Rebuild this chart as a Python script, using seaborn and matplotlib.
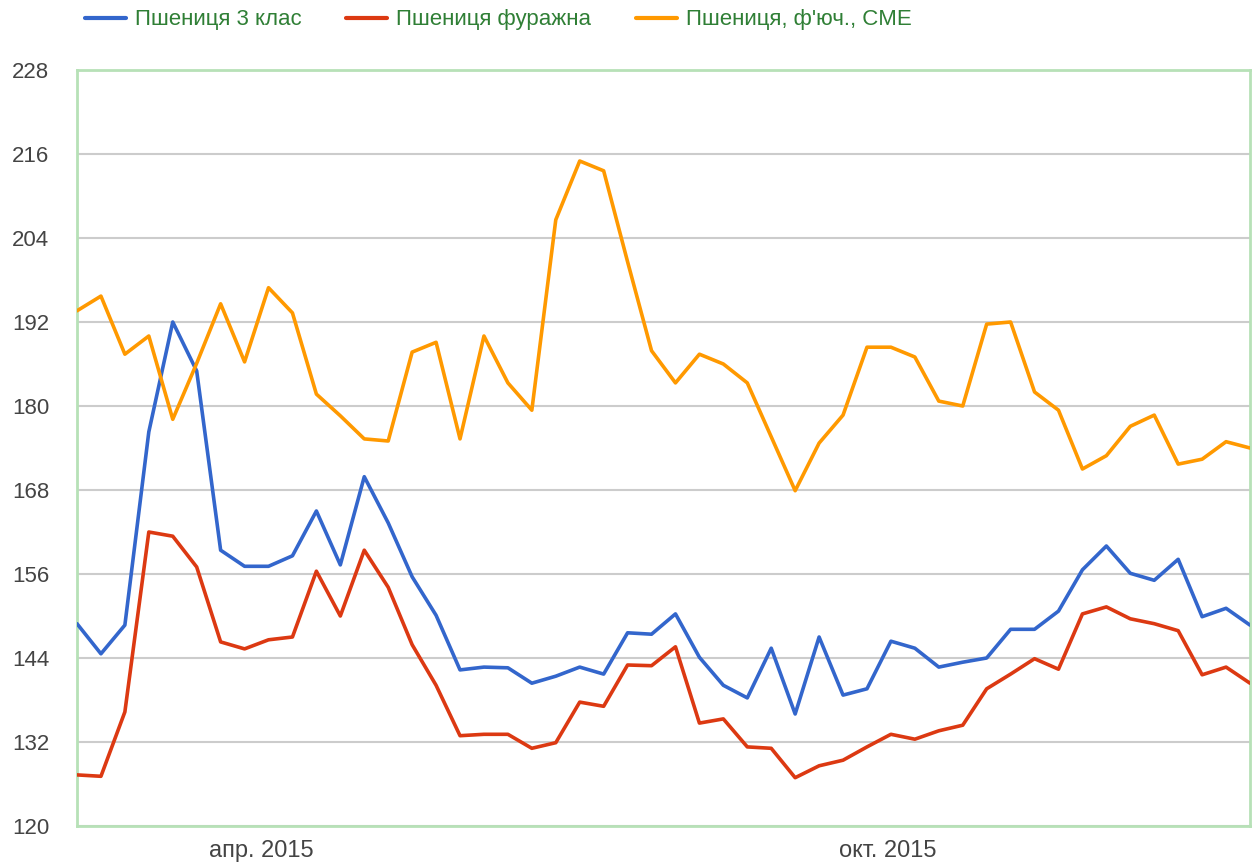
import matplotlib
matplotlib.use("Agg")
import matplotlib.pyplot as plt
import seaborn as sns
import pandas as pd
import numpy as np

# ---- data ----
start_date = "2015-02-06"
n_weeks = 50
series_names = ["Пшениця 3 клас", "Пшениця фуражна", "Пшениця, ф'юч., CME"]
wheat_class3 = [148.9, 144.6, 148.7, 176.3, 192.0, 185.0, 159.4, 157.1, 157.1, 158.6,
                165.0, 157.3, 169.9, 163.3, 155.6, 150.1, 142.3, 142.7, 142.6, 140.4,
                141.4, 142.7, 141.7, 147.6, 147.4, 150.3, 144.1, 140.1, 138.3, 145.4,
                136.0, 147.0, 138.7, 139.6, 146.4, 145.4, 142.7, 143.4, 144.0, 148.1,
                148.1, 150.7, 156.6, 160.0, 156.1, 155.1, 158.1, 149.9, 151.1, 148.7]
wheat_feed = [127.3, 127.1, 136.3, 162.0, 161.4, 157.0, 146.3, 145.3, 146.6, 147.0,
              156.4, 150.0, 159.4, 154.1, 145.9, 140.1, 132.9, 133.1, 133.1, 131.1,
              131.9, 137.7, 137.1, 143.0, 142.9, 145.6, 134.7, 135.3, 131.3, 131.1,
              126.9, 128.6, 129.4, 131.3, 133.1, 132.4, 133.6, 134.4, 139.6, 141.7,
              143.9, 142.4, 150.3, 151.3, 149.6, 148.9, 147.9, 141.6, 142.7, 140.4]
wheat_cme = [193.6, 195.7, 187.4, 190.0, 178.1, 186.1, 194.6, 186.3, 196.9, 193.3,
             181.7, 178.6, 175.3, 175.0, 187.7, 189.1, 175.3, 190.0, 183.3, 179.4,
             206.6, 215.0, 213.6, 200.6, 187.9, 183.3, 187.4, 186.0, 183.3, 175.6,
             167.9, 174.7, 178.7, 188.4, 188.4, 187.0, 180.7, 180.0, 191.7, 192.0,
             182.0, 179.4, 171.0, 172.9, 177.1, 178.7, 171.7, 172.4, 174.9, 174.0]
y_ticks = [120, 132, 144, 156, 168, 180, 192, 204, 216, 228]
x_tick_dates = ["2015-04-01", "2015-10-01"]
x_tick_labels = ["апр. 2015", "окт. 2015"]

colors = ["#3366cc", "#dc3912", "#ff9900"]

dates = pd.date_range(start_date, periods=n_weeks, freq="7D")
df = pd.DataFrame({
    "date": np.tile(dates, 3),
    "value": wheat_class3 + wheat_feed + wheat_cme,
    "series": np.repeat(series_names, n_weeks),
})

sns.set_theme(style="white")
plt.rcParams["font.family"] = ["Liberation Sans", "DejaVu Sans"]

fig = plt.figure(figsize=(12.53, 8.66), dpi=100)
ax = fig.add_axes([77 / 1253, 40 / 866, (1250 - 77) / 1253, (826 - 70) / 866])

sns.lineplot(data=df, x="date", y="value", hue="series", hue_order=series_names,
             palette=colors, linewidth=2.6, ax=ax, legend=True, zorder=3)

ax.set_xlim(dates[0], dates[-1])
ax.set_ylim(120, 228)
ax.set_yticks(y_ticks)
ax.set_yticklabels([str(v) for v in y_ticks])
ax.set_xticks(pd.to_datetime(x_tick_dates))
ax.set_xticklabels(x_tick_labels)
ax.set_xlabel("")
ax.set_ylabel("")
ax.grid(axis="y", color="#cccccc", linewidth=1.5, zorder=0)
ax.grid(axis="x", visible=False)
ax.tick_params(axis="both", length=0, colors="#444444")
ax.tick_params(axis="y", labelsize=16, pad=20)
ax.tick_params(axis="x", labelsize=17, pad=10)
for s in ax.spines.values():
    s.set_color("#b7e1b7")
    s.set_linewidth(2)
    s.set_visible(True)

handles, labels = ax.get_legend_handles_labels()
if ax.legend_:
    ax.legend_.remove()
leg = fig.legend(handles, labels, loc="upper left", bbox_to_anchor=(76 / 1253, 1 - 0.5 / 866),
                 ncol=3, frameon=False, fontsize=16.0, handlelength=1.85,
                 columnspacing=2.0, handletextpad=0.4, borderaxespad=0)
for t in leg.get_texts():
    t.set_color("#2f7f35")
for h in leg.legend_handles:
    h.set_linewidth(3)

fig.savefig("out.png", dpi=100)
